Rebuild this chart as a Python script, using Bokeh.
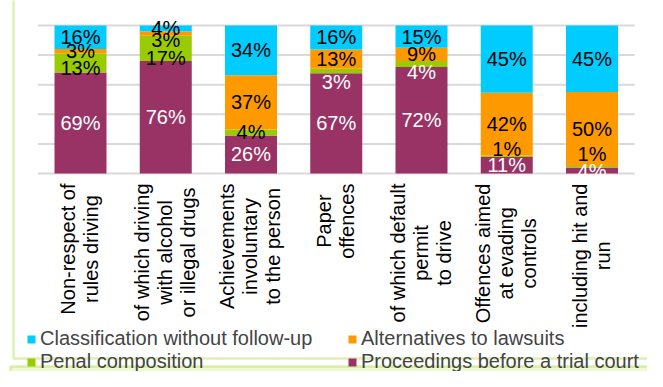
import glob
import math
from bokeh.plotting import figure
from bokeh.models import Range1d, Legend, LegendItem, ColumnDataSource, BoxAnnotation
from bokeh.core.properties import value
from bokeh.embed import file_html
from bokeh.resources import INLINE

# ---- data ----
categories = [
    "Non-respect of\nrules driving",
    "of which driving\nwith alcohol\nor illegal drugs",
    "Achievements\ninvoluntary\nto the person",
    "Paper\noffences",
    "of which default\npermit\nto drive",
    "Offences aimed\nat evading\ncontrols",
    "including hit and\nrun",
]
series_names = ["Classification without follow-up", "Alternatives to lawsuits",
                "Penal composition", "Proceedings before a trial court"]
classification = [16, 4, 34, 16, 15, 45, 45]
alternatives = [3, 3, 37, 13, 9, 42, 50]
penal = [13, 17, 4, 3, 4, 1, 1]
proceedings = [69, 76, 26, 67, 72, 11, 4]
grid_ticks = [0, 0.2, 0.4, 0.6, 0.8, 1.0]

# ---- style ----
colors = {"cls": "#00CCFF", "alt": "#FF9900", "pen": "#99CC00", "pro": "#993366"}
label_colors = {
    "cls": ["black"] * 7,
    "alt": ["black"] * 7,
    "pen": ["black", "black", "black", "white", "white", "black", "black"],
    "pro": ["white"] * 7,
}
label_nudge = {  # screen px, + = down
    "cls": [0, 0, 0, 0, 0, 0, 0],
    "alt": [0, 6, 0, 0, 0, 0, 0],
    "pen": [5, 10, 0, 11, 8, -7, -13],
    "pro": [0, 0, 0, 0, 0, 0, 0],
}
FONT = "Liberation Sans"
AXIS_FS = 20
LINE_STEP = 23

_font_path = None
for pat in ["/usr/share/fonts/**/LiberationSans-Regular.ttf", "/usr/**/LiberationSans-Regular.ttf"]:
    found = glob.glob(pat, recursive=True)
    if found:
        _font_path = found[0]
        break
try:
    from PIL import ImageFont
    _pil_font = ImageFont.truetype(_font_path, AXIS_FS) if _font_path else None
except Exception:
    _pil_font = None


def text_width(s):
    if _pil_font is not None:
        return _pil_font.getlength(s)
    return 0.5 * AXIS_FS * len(s)


n = len(categories)
xs = list(range(n))
totals = [a + b + c + d for a, b, c, d in zip(classification, alternatives, penal, proceedings)]
frac = {
    "pro": [v / t for v, t in zip(proceedings, totals)],
    "pen": [v / t for v, t in zip(penal, totals)],
    "alt": [v / t for v, t in zip(alternatives, totals)],
    "cls": [v / t for v, t in zip(classification, totals)],
}
raw = {"pro": proceedings, "pen": penal, "alt": alternatives, "cls": classification}
src = ColumnDataSource(dict(x=xs, **frac))

W, H = 647, 371
p = figure(width=W, height=H, output_backend="svg", toolbar_location=None,
           x_range=Range1d(-0.93842, 6.65102), y_range=Range1d(-1.33784, 1.16892),
           min_border=0)
p.outline_line_color = None
p.grid.visible = False
p.axis.visible = False

# panel frames
p.add_layout(BoxAnnotation(left=10, right=659.5, top=-10, bottom=5,
                           left_units="screen", right_units="screen",
                           top_units="screen", bottom_units="screen",
                           fill_color="#EFFAD2", fill_alpha=1, line_color="#99CC00", line_width=2.5,
                           level="underlay"))
p.add_layout(BoxAnnotation(left=13, right=900, top=13, bottom=900,
                           left_units="screen", right_units="screen",
                           top_units="screen", bottom_units="screen",
                           fill_alpha=0, line_color="#99CC00", line_width=2.5, level="underlay"))

# gridlines
p.segment(x0=[-0.5] * len(grid_ticks), x1=[n - 0.5] * len(grid_ticks), y0=grid_ticks, y1=grid_ticks,
          line_color="#D9D9D9", line_width=2)

stack_order = ["pro", "pen", "alt", "cls"]
rends = p.vbar_stack(stack_order, x="x", width=0.61, source=src,
                     color=[colors[k] for k in stack_order], line_color=None)
rmap = dict(zip(stack_order, rends))

# value labels
cum = [0.0] * n
for k in stack_order:
    ys = [c + f / 2 for c, f in zip(cum, frac[k])]
    cum = [c + f for c, f in zip(cum, frac[k])]
    p.text(x=xs, y=ys, text=[f"{v}%" for v in raw[k]], text_align="center",
           text_baseline="middle", text_font=value(FONT), text_font_size="20px",
           text_color=label_colors[k], y_offset=label_nudge[k])

# category labels (rotated, lines centred, block hanging under the axis)
lx, ltxt, lxo, lyo = [], [], [], []
for i, cat in enumerate(categories):
    lines = cat.split("\n")
    maxw = max(text_width(s) for s in lines)
    k = len(lines)
    for j, s in enumerate(lines):
        lx.append(i)
        ltxt.append(s)
        lxo.append((j - (k - 1) / 2) * LINE_STEP - 1)
        lyo.append(10 + maxw / 2)
p.text(x=lx, y=[0] * len(lx), text=ltxt, x_offset=lxo, y_offset=lyo, angle=math.pi / 2,
       text_align="center", text_baseline="middle", text_font=value(FONT),
       text_font_size=f"{AXIS_FS}px", text_color="black")

# legend: two columns
common = dict(orientation="vertical", label_text_font=FONT, label_text_font_size="20px",
              glyph_width=10, glyph_height=10, label_standoff=4, spacing=0, label_height=22,
              padding=0, margin=0, background_fill_alpha=0, border_line_color=None)
leg1 = Legend(items=[LegendItem(label=series_names[0], renderers=[rmap["cls"]]),
                     LegendItem(label=series_names[2], renderers=[rmap["pen"]])],
              location=(26, -2), **common)
leg2 = Legend(items=[LegendItem(label=series_names[1], renderers=[rmap["alt"]]),
                     LegendItem(label=series_names[3], renderers=[rmap["pro"]])],
              location=(347, -2), **common)
p.add_layout(leg1, "center")
p.add_layout(leg2, "center")

open("out.html", "w").write(file_html(p, INLINE))
